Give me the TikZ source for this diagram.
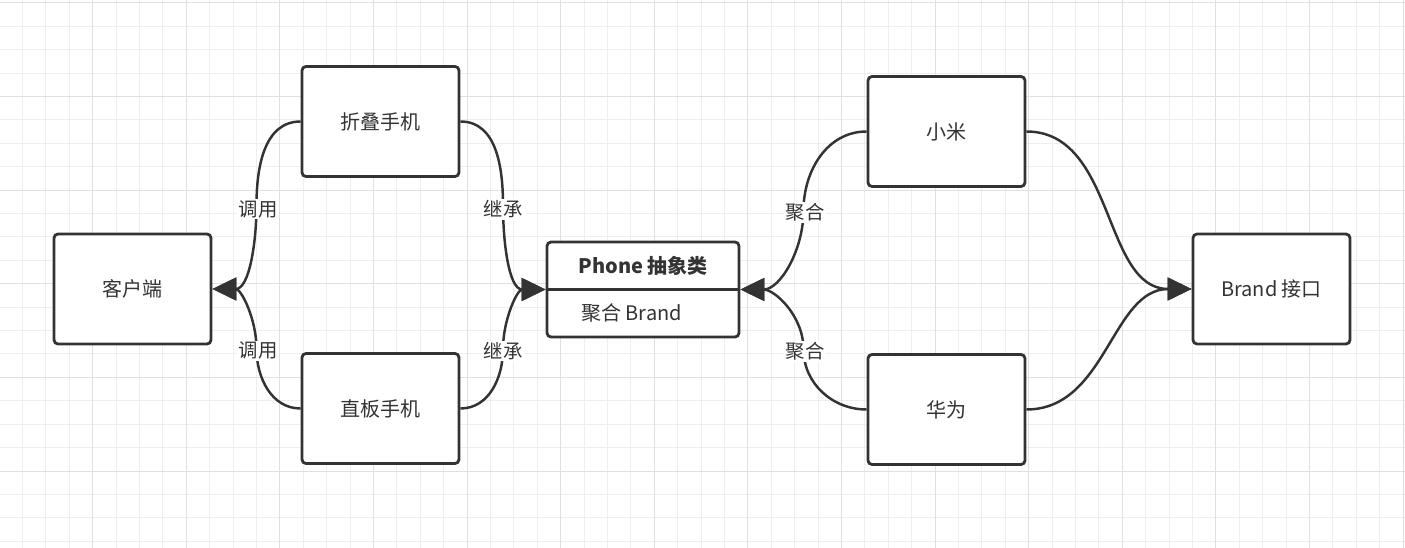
\documentclass[tikz,border=0pt]{standalone}
\usepackage{fontspec}
\setmainfont{Noto Sans CJK SC}
\usetikzlibrary{arrows.meta,calc}
\definecolor{ink}{HTML}{333333}
\definecolor{gmin}{HTML}{EEEEEE}
\definecolor{gmaj}{HTML}{E0E0E0}
\begin{document}
\begin{tikzpicture}[x=0.75pt,y=-0.75pt,
  box/.style={draw=ink,line width=2.1pt,rounded corners=3pt,fill=white,
    minimum width=117.75pt,minimum height=82.5pt,inner sep=0pt,text=ink,
    font=\fontsize{15}{17}\selectfont},
  cls/.style={draw=ink,line width=2.1pt,rounded corners=3pt,fill=white,
    minimum width=144pt,minimum height=71.25pt,inner sep=0pt},
  txt/.style={inner sep=0pt,text=ink,font=\fontsize{15}{17}\selectfont},
  lbl/.style={fill=white,inner sep=1pt,text=ink,font=\fontsize{14.5}{16}\selectfont},
  arr/.style={draw=ink,line width=1.85pt,-{Triangle[length=18pt,width=17pt]}},
  gridmin/.style={draw=gmin,line width=0.75pt},
  gridmaj/.style={draw=gmaj,line width=0.75pt}]
\useasboundingbox (0,0) rectangle (1405,548);
\fill[white] (0,0) rectangle (1405,548);
\begin{scope}
\clip (0,0) rectangle (1405,548);
\foreach \i in {0,...,61}{\pgfmathsetmacro\xx{-1+23.4*\i}\draw[gridmin] (\xx,0) -- (\xx,548);}
\foreach \j in {0,...,24}{\pgfmathsetmacro\yy{3+23.4*\j}\draw[gridmin] (0,\yy) -- (1405,\yy);}
\foreach \i in {0,...,15}{\pgfmathsetmacro\xx{-1+93.6*\i}\draw[gridmaj] (\xx,0) -- (\xx,548);}
\foreach \j in {0,...,6}{\pgfmathsetmacro\yy{3+93.6*\j}\draw[gridmaj] (0,\yy) -- (1405,\yy);}
\end{scope}

\node[box] (kh) at (132.5,289) {客户端};
\node[box] (zd) at (380.5,121.5) {折叠手机};
\node[box] (zb) at (380.5,408.5) {直板手机};
\node[box] (xm) at (946.5,131.5) {小米};
\node[box] (hw) at (946.5,409.5) {华为};
\node[box] (br) at (1271.5,289) {Brand 接口};
\node[cls] (ph) at (643,289.5) {};
\draw[ink,line width=2.1pt] (ph.west) -- (ph.east);
\node[txt,font=\fontsize{15}{17}\selectfont\bfseries] (phh) at (643,266) {Phone 抽象类};
\node[txt,anchor=west] (phb) at (581,312.5) {聚合 Brand};

% connectors
\coordinate (m1) at ($(zd.west)!.5!(kh.east)$);
\coordinate (m2) at ($(zb.west)!.5!(kh.east)$);
\coordinate (m3) at ($(zd.east)!.5!(ph.west)$);
\coordinate (m4) at ($(zb.east)!.5!(ph.west)$);
\coordinate (m5) at ($(xm.west)!.5!(ph.east)$);
\coordinate (m6) at ($(hw.west)!.5!(ph.east)$);
\draw[arr] (zd.west) to[out=180,in=90] (m1) to[out=-90,in=0] (kh.east);
\draw[arr] (zb.west) to[out=180,in=-90] (m2) to[out=90,in=0] (kh.east);
\draw[arr] (zd.east) to[out=0,in=90] (m3) to[out=-90,in=180] (ph.west);
\draw[arr] (zb.east) to[out=0,in=-90] (m4) to[out=90,in=180] (ph.west);
\draw[arr] (xm.west) to[out=180,in=90] (m5) to[out=-90,in=0] (ph.east);
\draw[arr] (hw.west) to[out=180,in=-90] (m6) to[out=90,in=0] (ph.east);
\draw[arr] (xm.east) to[out=0,in=180] (br.west);
\draw[arr] (hw.east) to[out=0,in=180] (br.west);

\node[lbl] (l1) at ($(m1)+(1.5,4)$) {调用};
\node[lbl] (l2) at ($(m2)+(1.5,2)$) {调用};
\node[lbl] (l3) at ($(m3)+(0,4)$) {继承};
\node[lbl] (l4) at ($(m4)+(0,2)$) {继承};
\node[lbl] (l5) at ($(m5)+(1.5,2)$) {聚合};
\node[lbl] (l6) at ($(m6)+(1.5,2)$) {聚合};
\end{tikzpicture}
\end{document}
